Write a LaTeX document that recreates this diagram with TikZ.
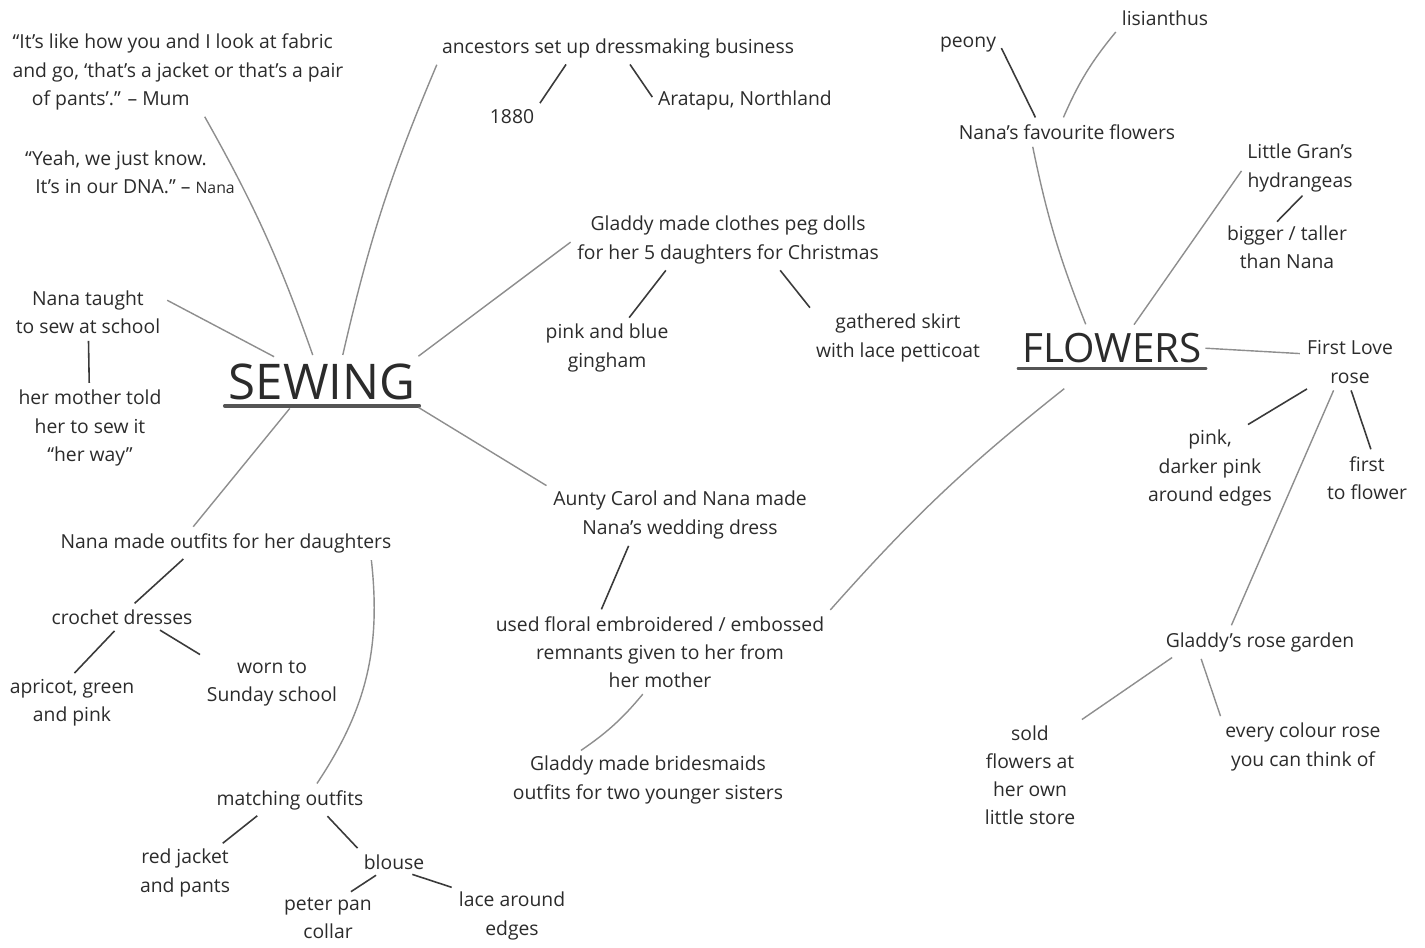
\documentclass[tikz,border=0pt]{standalone}
\usepackage{fontspec}
\setmainfont{Open Sans}
\definecolor{ink}{HTML}{2B2B2B}
\definecolor{lightline}{HTML}{8E8E8E}
\definecolor{darkline}{HTML}{3A3A3A}
\definecolor{underink}{HTML}{555555}
\begin{document}
\begin{tikzpicture}[x=0.02cm,y=-0.02cm]
      \tikzset{note/.style={text=ink, font=\fontsize{11}{16}\selectfont, align=center, inner sep=2pt},
               topic/.style={text=ink, font=\fontsize{28}{30}\selectfont, inner xsep=0pt, inner ysep=3pt},
               branch/.style={color=lightline, line width=0.8pt, shorten <=2pt, shorten >=2pt},
               twig/.style={color=darkline, line width=0.9pt, shorten <=2pt, shorten >=2pt},
               under/.style={color=underink, line width=2.2pt, line cap=round, shorten <=-2pt, shorten >=-2pt}}
      \useasboundingbox (0,0) rectangle (1425,947);
%% Nodes
	%sewing
      	\node[topic] (sewing) at (322,382) {SEWING};
      	\node[note, align=left] (quoteA) at (178,72) {“It’s like how you and I look at fabric\\and go, ‘that’s a jacket or that’s a pair\\\quad of pants’.” – Mum};
      	\node[note, align=left] (quoteB) at (130,172) {“Yeah, we just know.\\\ \ It’s in our DNA.” – {\small Nana}};
      	\node[note] (ancestors) at (618,48) {ancestors set up dressmaking business};
      	\node[note] (year) at (512,117) {1880};
      	\node[note] (aratapu) at (745,100) {Aratapu, Northland};
      	\node[note] (dolls) at (728,240) {Gladdy made clothes peg dolls\\for her 5 daughters for Christmas};
      	\node[note] (gingham) at (607,348) {pink and blue\\gingham};
      	\node[note] (skirt) at (898,338) {gathered skirt\\with lace petticoat};
      	\node[note] (taught) at (88,312) {Nana taught\\to sew at school};
      	\node[note] (herway) at (90,428) {her mother told\\her to sew it\\“her way”};
      	\node[note] (wedding) at (680,515) {Aunty Carol and Nana made\\Nana’s wedding dress};
      	\node[note] (remnants) at (660,652) {used floral embroidered / embossed\\remnants given to her from\\her mother};
      	\node[note] (brides) at (648,780) {Gladdy made bridesmaids\\outfits for two younger sisters};
      	\node[note] (outfits) at (226,543) {Nana made outfits for her daughters};
      	\node[note] (crochet) at (122,617) {crochet dresses};
      	\node[note] (apricot) at (72,703) {apricot, green\\and pink};
      	\node[note] (sunday) at (272,683) {worn to\\Sunday school};
      	\node[note] (matching) at (290,800) {matching outfits};
      	\node[note] (jacket) at (185,873) {red jacket\\and pants};
      	\node[note] (blouse) at (394,862) {blouse};
      	\node[note] (collar) at (328,918) {peter pan\\collar};
      	\node[note] (lace) at (512,916) {lace around\\edges};
	%flowers
      	\node[topic, font=\fontsize{23}{25}\selectfont] (flowers) at (1112,348) {FLOWERS};
      	\node[note] (peony) at (968,45) {peony};
      	\node[note] (lisianthus) at (1165,18) {lisianthus};
      	\node[note] (favourite) at (1067,132) {Nana’s favourite flowers};
      	\node[note] (gran) at (1300,168) {Little Gran’s\\hydrangeas};
      	\node[note] (taller) at (1287,247) {bigger / taller\\than Nana};
      	\node[note] (firstlove) at (1350,362) {First Love\\rose};
      	\node[note] (darker) at (1210,468) {pink,\\darker pink\\around edges};
      	\node[note] (firstflower) at (1367,478) {first\\to flower};
      	\node[note] (garden) at (1260,642) {Gladdy’s rose garden};
      	\node[note] (store) at (1030,775) {sold\\flowers at\\her own\\little store};
      	\node[note] (colour) at (1303,747) {every colour rose\\you can think of};
%Edges
	%underlines
		\path [under] (sewing.south west) edge (sewing.south east);
		\path [under] (flowers.south west) edge (flowers.south east);
	%sewing
		\path [branch] ([xshift=0.5cm]quoteA.south) edge[bend left=5] (sewing);
		\path [branch] (ancestors.south west) edge[bend right=5] ([xshift=0.4cm]sewing.north);
		\path [branch] (taught.10) edge (sewing);
		\path [twig] (taught) edge (herway);
		\path [branch] (sewing.north east) edge (dolls.west);
		\path [branch] (sewing.south east) edge (wedding.north west);
		\path [branch] ([xshift=-0.6cm]sewing.south) edge ([xshift=-0.7cm]outfits.north);
		\path [twig] ([xshift=-1cm]ancestors.south) edge (year.north east);
		\path [twig] ([xshift=0.2cm]ancestors.south) edge (aratapu.west);
		\path [twig] ([xshift=-1.2cm]dolls.south) edge ([xshift=0.4cm]gingham.north);
		\path [twig] ([xshift=1cm]dolls.south) edge (skirt.north west);
		\path [twig] ([xshift=-1cm]wedding.south) edge ([xshift=-1.2cm]remnants.north);
		\path [branch] ([xshift=-0.3cm]remnants.south) edge[bend left=8] ([xshift=-1.4cm]brides.north);
		\path [branch] (remnants.north east) edge[bend left=5] ([shift={(-45,18)}]flowers.south);
		\path [twig] ([xshift=-0.8cm]outfits.south) edge ([xshift=0.2cm]crochet.north);
		\path [branch] ([xshift=2.9cm]outfits.south) edge[bend left=20] ([xshift=0.5cm]matching.north);
		\path [twig] ([xshift=-0.1cm]crochet.south) edge (apricot.north);
		\path [twig] ([xshift=0.7cm]crochet.south) edge (sunday.north west);
		\path [twig] ([xshift=-0.6cm]matching.south) edge ([xshift=0.7cm]jacket.north);
		\path [twig] ([xshift=0.7cm]matching.south) edge (blouse.north west);
		\path [twig] ([xshift=-0.3cm]blouse.south) edge ([xshift=0.4cm]collar.north);
		\path [twig] ([xshift=0.3cm]blouse.south) edge (lace.north west);
	%flowers
		\path [branch] ([xshift=-0.5cm]flowers.north) edge[bend left=5] ([xshift=-0.7cm]favourite.south);
		\path [branch] ([xshift=0.4cm]flowers.north) edge (gran.west);
		\path [twig] (peony.east) edge ([xshift=-0.6cm]favourite.north);
		\path [branch] (lisianthus.south west) edge[bend right=8] ([xshift=-0.1cm]favourite.north);
		\path [twig, shorten <=0pt, shorten >=0pt] ([xshift=0.05cm]gran.south) edge ([xshift=-0.2cm]taller.north);
		\path [branch] (flowers.east) edge (firstlove.170);
		\path [twig] ([xshift=-0.8cm]firstlove.south) edge ([xshift=0.7cm]darker.north);
		\path [twig] (firstlove.south) edge ([xshift=0.1cm]firstflower.north);
		\path [branch] ([xshift=-0.3cm]firstlove.south) edge ([xshift=-0.6cm]garden.north);
		\path [branch] ([xshift=-1.7cm]garden.south) edge (store.north east);
		\path [branch] ([xshift=-1.2cm]garden.south) edge (colour.north west);
\end{tikzpicture}
\end{document}
